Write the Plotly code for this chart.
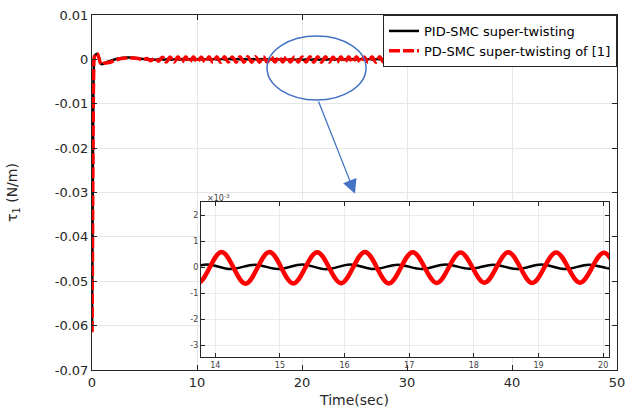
import numpy as np
import plotly.graph_objects as go

# ---------------- data ----------------
# start-up transient, time in s, torque in N/m
t_trans = [0.0, 0.04, 0.08, 0.12, 0.16, 0.22, 0.35, 0.5, 0.65, 0.8, 0.95, 1.1,
           1.4, 1.8, 2.3, 2.8, 3.3, 3.8, 4.4, 4.86, 5.23, 5.6]
black_trans = [-0.0612, -0.045, -0.025, -0.010, -0.003, 0.0004, 0.0011, 0.0012,
               0.0003, -0.0008, -0.0011, -0.0010, -0.0006, -0.0003, 0.0001,
               0.0003, 0.0004, 0.0004, 0.0002, 0.0001, 0.0, 0.0]
red_trans = [-0.0615, -0.046, -0.026, -0.011, -0.003, 0.0005, 0.0012, 0.0013,
             0.0004, -0.0008, -0.0012, -0.0009, -0.0008, -0.0006, -0.0001,
             0.0002, 0.0003, 0.0003, 0.0002, -0.0001, 0.0002, -0.0003]

# steady-state chattering: successive extremum values (x1e-3 N/m),
# sampled every half period of the oscillation
osc_half_period = 0.3695
red_osc_t0 = 5.97
black_osc_t0 = 6.11
red_ext_e3 = [
    0.30, -0.40, 0.50, -0.58, 0.56, -0.61, 0.57, -0.62, 0.58, -0.63,
    0.57, -0.62, 0.56, -0.61, 0.57, -0.62, 0.58, -0.62, 0.57, -0.61,
    0.56, -0.62, 0.58, -0.64, 0.58, -0.63, 0.57, -0.62, 0.58, -0.63,
    0.57, -0.61, 0.56, -0.60, 0.57, -0.61, 0.56, -0.60, 0.55, -0.61,
    0.57, -0.62, 0.58, -0.62, 0.57, -0.61, 0.56, -0.62, 0.57, -0.63,
    0.58, -0.62, 0.57, -0.61, 0.56, -0.62, 0.57, -0.62, 0.58, -0.63,
    0.57, -0.62, 0.56, -0.61, 0.57, -0.62, 0.58, -0.62, 0.57, -0.61,
    0.56, -0.62, 0.57, -0.63, 0.58, -0.62, 0.57, -0.61, 0.56, -0.62,
    0.57, -0.62, 0.58, -0.63, 0.57, -0.62, 0.56, -0.61, 0.57, -0.62,
    0.58, -0.62, 0.57, -0.61, 0.56, -0.62, 0.57, -0.63, 0.58, -0.62,
    0.57, -0.61, 0.56, -0.62, 0.57, -0.62, 0.58, -0.63, 0.57, -0.62,
    0.56, -0.61, 0.57, -0.62, 0.58, -0.62, 0.57, -0.61, 0.56, -0.62,
]
black_ext_e3 = [
    -0.07, 0.09, -0.08, 0.10, -0.08, 0.09, -0.07, 0.10, -0.08, 0.09,
    -0.08, 0.10, -0.07, 0.09, -0.08, 0.10, -0.08, 0.09, -0.07, 0.10,
    -0.08, 0.10, -0.08, 0.09, -0.08, 0.10, -0.09, 0.10, -0.08, 0.09,
    -0.08, 0.10, -0.07, 0.09, -0.08, 0.10, -0.08, 0.09, -0.07, 0.08,
    -0.08, 0.09, -0.08, 0.10, -0.07, 0.09, -0.08, 0.10, -0.08, 0.09,
    -0.07, 0.10, -0.08, 0.09, -0.08, 0.10, -0.07, 0.09, -0.08, 0.10,
    -0.08, 0.09, -0.07, 0.10, -0.08, 0.09, -0.08, 0.10, -0.07, 0.09,
    -0.08, 0.10, -0.08, 0.09, -0.07, 0.10, -0.08, 0.09, -0.08, 0.10,
    -0.07, 0.09, -0.08, 0.10, -0.08, 0.09, -0.07, 0.10, -0.08, 0.09,
    -0.08, 0.10, -0.07, 0.09, -0.08, 0.10, -0.08, 0.09, -0.07, 0.10,
    -0.08, 0.09, -0.09, 0.08, -0.12, 0.02, -0.45, -0.30, -0.47, -0.31,
    -0.48, -0.30, -0.47, -0.31, -0.48, -0.30, -0.47, -0.31, -0.48, -0.30,
]

x_ticks = [0, 10, 20, 30, 40, 50]
y_ticks = [0.01, 0, -0.01, -0.02, -0.03, -0.04, -0.05, -0.06, -0.07]
y_ticktext = ["0.01", "0", "-0.01", "-0.02", "-0.03", "-0.04", "-0.05", "-0.06", "-0.07"]
inset_x_ticks = [14, 15, 16, 17, 18, 19, 20]
inset_y_ticks_e3 = [2, 1, 0, -1, -2, -3]

names = ["PID-SMC super-twisting", "PD-SMC super-twisting of [1]"]

# ---------------- build series ----------------
t_black = t_trans + list(np.round(black_osc_t0 + osc_half_period * np.arange(len(black_ext_e3)), 4))
y_black = black_trans + [v * 1e-3 for v in black_ext_e3]
t_red = t_trans + list(np.round(red_osc_t0 + osc_half_period * np.arange(len(red_ext_e3)), 4))
y_red = red_trans + [v * 1e-3 for v in red_ext_e3]

FONT = "DejaVu Sans"
INK = "#262626"
GRID = "#e6e6e6"
BLUE = "#4472C4"

X_RANGE = [0, 50]
Y_RANGE = [-0.07, 0.01]

fig = go.Figure()
fig.add_trace(go.Scatter(x=t_black, y=y_black, mode="lines", name=names[0],
                         line=dict(color="black", width=2.5, shape="spline")))
fig.add_trace(go.Scatter(x=t_red, y=y_red, mode="lines", name=names[1],
                         line=dict(color="red", width=3.5, dash="11px,3px", shape="spline")))
# inset
fig.add_trace(go.Scatter(x=t_black, y=y_black, mode="lines", showlegend=False,
                         xaxis="x2", yaxis="y2",
                         line=dict(color="black", width=2.5, shape="spline")))
fig.add_trace(go.Scatter(x=t_red, y=y_red, mode="lines", showlegend=False,
                         xaxis="x2", yaxis="y2",
                         line=dict(color="red", width=4.5, shape="spline")))

ins_x = [0.2076, 0.9848]
ins_y = [0.0366, 0.4732]
# inset background expressed in the main axes' frame
bx = [X_RANGE[0] + f * (X_RANGE[1] - X_RANGE[0]) for f in ins_x]
by = [Y_RANGE[0] + f * (Y_RANGE[1] - Y_RANGE[0]) for f in ins_y]

fig.update_layout(
    width=625, height=408,
    margin=dict(l=92, r=8, t=15, b=38),
    paper_bgcolor="white", plot_bgcolor="white",
    font=dict(family=FONT, color=INK, size=13),
    showlegend=True,
    legend=dict(x=1, xanchor="right", y=1, yanchor="top",
                bgcolor="white", bordercolor=INK, borderwidth=1,
                font=dict(family=FONT, size=13, color="black"),
                itemwidth=30, tracegroupgap=0),
    xaxis=dict(range=X_RANGE, tickvals=x_ticks, showgrid=True, gridcolor=GRID,
               showline=True, linecolor=INK, linewidth=1, mirror="ticks",
               ticks="inside", ticklen=5, tickcolor=INK, zeroline=False,
               tickfont=dict(size=13), automargin=False, ticklabeloverflow="allow",
               title=dict(text="Time(sec)", font=dict(size=14), standoff=6)),
    yaxis=dict(range=Y_RANGE, tickvals=y_ticks, ticktext=y_ticktext,
               showgrid=True, gridcolor=GRID,
               showline=True, linecolor=INK, linewidth=1, mirror="ticks",
               ticks="inside", ticklen=5, tickcolor=INK, zeroline=False,
               tickfont=dict(size=13), automargin=False, ticklabeloverflow="allow",
               title=dict(text="τ<sub>1</sub> (N/m)", font=dict(size=14), standoff=33)),
    xaxis2=dict(domain=ins_x, anchor="y2", range=[13.78, 20.09], tickvals=inset_x_ticks,
                showgrid=True, gridcolor="#ebebeb", automargin=False,
                showline=True, linecolor=INK, linewidth=1.2, mirror="ticks",
                ticks="inside", ticklen=4, tickcolor=INK, zeroline=False,
                tickfont=dict(size=8, color="#404040")),
    yaxis2=dict(domain=ins_y, anchor="x2", range=[-3.46e-3, 2.5e-3],
                tickvals=[v * 1e-3 for v in inset_y_ticks_e3],
                ticktext=[str(v) for v in inset_y_ticks_e3],
                showgrid=True, gridcolor="#ebebeb", automargin=False,
                showline=True, linecolor=INK, linewidth=1.2, mirror="ticks",
                ticks="inside", ticklen=4, tickcolor=INK, zeroline=False,
                tickfont=dict(size=8, color="#404040")),
    shapes=[
        dict(type="rect", xref="x", yref="y",
             x0=bx[0], x1=bx[1], y0=by[0], y1=by[1],
             fillcolor="white", line=dict(width=0), layer="between"),
        dict(type="circle", xref="x", yref="y", x0=16.67, x1=26.1,
             y0=-0.00915, y1=0.00527, line=dict(color=BLUE, width=1.5), layer="above"),
    ],
    annotations=[
        dict(x=25.05, y=-0.0303, ax=21.52, ay=-0.00915, xref="x", yref="y",
             axref="x", ayref="y", text="", showarrow=True, arrowhead=2,
             arrowsize=2.2, arrowwidth=1.3, arrowcolor=BLUE),
        dict(x=ins_x[0] + 0.008, y=ins_y[1] + 0.012, xref="paper", yref="paper",
             xanchor="left", yanchor="middle", showarrow=False,
             text="×10<sup>-3</sup>", font=dict(size=8, color="#404040")),
    ],
)

fig.write_html("out.html")
